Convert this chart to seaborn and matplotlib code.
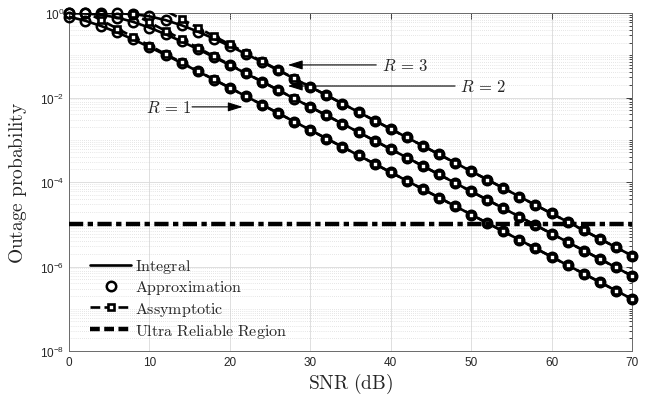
import numpy as np
import pandas as pd
import matplotlib
matplotlib.use("Agg")
import matplotlib.pyplot as plt
from matplotlib.lines import Line2D
from matplotlib.ticker import FixedLocator, LogLocator, NullFormatter
import seaborn as sns

# SNR grid (dB)
snr_db = np.arange(0, 72, 2)

# Outage probability, exact integral (approximation coincides with it)
pout_r1 = [0.817, 0.658, 0.492, 0.347, 0.236, 0.156, 0.102, 0.0654, 0.0418, 0.0266,
           0.0169, 0.0107, 6.75e-3, 4.26e-3, 2.69e-3, 1.70e-3, 1.07e-3, 6.77e-4, 4.27e-4, 2.69e-4,
           1.70e-4, 1.07e-4, 6.77e-5, 4.27e-5, 2.69e-5, 1.70e-5, 1.07e-5, 6.77e-6, 4.27e-6, 2.69e-6,
           1.70e-6, 1.07e-6, 6.77e-7, 4.27e-7, 2.69e-7, 1.70e-7]
pout_r2 = [0.9975, 0.977, 0.908, 0.778, 0.614, 0.451, 0.315, 0.2125, 0.140, 0.0907,
           0.0582, 0.0372, 0.0236, 0.0150, 9.46e-3, 5.98e-3, 3.78e-3, 2.39e-3, 1.51e-3, 9.51e-4,
           6.00e-4, 3.79e-4, 2.39e-4, 1.51e-4, 9.51e-5, 6.00e-5, 3.79e-5, 2.39e-5, 1.51e-5, 9.51e-6,
           6.00e-6, 3.79e-6, 2.39e-6, 1.51e-6, 9.51e-7, 6.00e-7]
pout_r3 = [1.0, 1.0, 0.9992, 0.989, 0.942, 0.835, 0.679, 0.512, 0.364, 0.248,
           0.165, 0.1074, 0.0692, 0.0442, 0.0281, 0.0178, 0.0113, 7.14e-3, 4.51e-3, 2.85e-3,
           1.80e-3, 1.14e-3, 7.17e-4, 4.52e-4, 2.85e-4, 1.80e-4, 1.14e-4, 7.17e-5, 4.52e-5, 2.85e-5,
           1.80e-5, 1.14e-5, 7.17e-6, 4.52e-6, 2.85e-6, 1.80e-6]

# High-SNR asymptotes
asym_r1 = [1.70, 1.07, 0.677, 0.427, 0.269, 0.170, 0.107, 0.0677, 0.0427, 0.0269,
           0.0170, 0.0107, 6.77e-3, 4.27e-3, 2.69e-3, 1.70e-3, 1.07e-3, 6.77e-4, 4.27e-4, 2.69e-4,
           1.70e-4, 1.07e-4, 6.77e-5, 4.27e-5, 2.69e-5, 1.70e-5, 1.07e-5, 6.77e-6, 4.27e-6, 2.69e-6,
           1.70e-6, 1.07e-6, 6.77e-7, 4.27e-7, 2.69e-7, 1.70e-7]
asym_r2 = [6.00, 3.79, 2.39, 1.51, 0.951, 0.600, 0.379, 0.239, 0.151, 0.0951,
           0.0600, 0.0379, 0.0239, 0.0151, 9.51e-3, 6.00e-3, 3.79e-3, 2.39e-3, 1.51e-3, 9.51e-4,
           6.00e-4, 3.79e-4, 2.39e-4, 1.51e-4, 9.51e-5, 6.00e-5, 3.79e-5, 2.39e-5, 1.51e-5, 9.51e-6,
           6.00e-6, 3.79e-6, 2.39e-6, 1.51e-6, 9.51e-7, 6.00e-7]
asym_r3 = [18.0, 11.4, 7.17, 4.52, 2.85, 1.80, 1.14, 0.717, 0.452, 0.285,
           0.180, 0.114, 0.0717, 0.0452, 0.0285, 0.0180, 0.0114, 7.17e-3, 4.52e-3, 2.85e-3,
           1.80e-3, 1.14e-3, 7.17e-4, 4.52e-4, 2.85e-4, 1.80e-4, 1.14e-4, 7.17e-5, 4.52e-5, 2.85e-5,
           1.80e-5, 1.14e-5, 7.17e-6, 4.52e-6, 2.85e-6, 1.80e-6]

ultra_reliable = 1e-5
rates = [1, 2, 3]

df = pd.concat([
    pd.DataFrame({"snr": snr_db, "exact": p, "approx": p, "asym": a, "R": r})
    for r, p, a in zip(rates, [pout_r1, pout_r2, pout_r3], [asym_r1, asym_r2, asym_r3])
], ignore_index=True)

sns.set_style("white")
plt.rcParams.update({
    "font.family": ["Liberation Sans", "DejaVu Sans"],
    "mathtext.fontset": "custom",
    "mathtext.rm": "Liberation Sans",
    "mathtext.it": "Liberation Sans:italic",
    "mathtext.bf": "Liberation Sans:bold",
})

fig = plt.figure(figsize=(6.51, 4.02), dpi=100)
ax = fig.add_axes([69 / 651, 1 - 352 / 402, (632 - 69) / 651, (352 - 14) / 402])

lw = 1.9
# exact integral curves
sns.lineplot(data=df, x="snr", y="exact", units="R", estimator=None, color="black",
             lw=lw, ax=ax, legend=False, zorder=3)
# approximation markers
sns.lineplot(data=df, x="snr", y="approx", units="R", estimator=None, color="black",
             linestyle="none", marker="o", ms=6.8, mfc="none", mec="black", mew=1.8,
             ax=ax, legend=False, zorder=4, clip_on=False)
# asymptotes
sns.lineplot(data=df, x="snr", y="asym", units="R", estimator=None, color="black",
             lw=lw, linestyle="--", ax=ax, legend=False, zorder=5)
inside = df[df["asym"] <= 1.0]
sns.lineplot(data=inside, x="snr", y="asym", units="R", estimator=None, color="black",
             linestyle="none", marker="s", ms=4.6, mfc="white", mec="black", mew=1.9,
             ax=ax, legend=False, zorder=6, clip_on=False)
# ultra reliable threshold
ur_style = dict(color="black", lw=3.2, dashes=(3.2, 1.0, 1.2, 1.0))
ax.axhline(ultra_reliable, zorder=7, **ur_style)

ax.set_yscale("log")
ax.set_xlim(0, 70)
ax.set_ylim(1e-8, 1)
ax.set_xticks(np.arange(0, 71, 10))
ax.yaxis.set_major_locator(FixedLocator([1e-8, 1e-6, 1e-4, 1e-2, 1e0]))
ax.yaxis.set_minor_locator(LogLocator(base=10, subs=np.arange(1, 10), numticks=100))
ax.yaxis.set_minor_formatter(NullFormatter())

axc = "#262626"
for s in ax.spines.values():
    s.set_color("#6a6a6a")
    s.set_linewidth(0.7)
    s.set_visible(True)
ax.tick_params(which="both", direction="in", top=True, right=True, colors=axc,
               labelsize=8.5, width=0.6)
ax.tick_params(which="major", length=4)
ax.tick_params(which="minor", length=2.2)
for t in ax.get_xticklabels() + ax.get_yticklabels():
    t.set_color(axc)

ax.grid(True, which="major", color="#d9d9d9", lw=0.6, ls="-")
ax.grid(True, which="minor", axis="y", color="#cfcfcf", lw=0.5, ls=(0, (1, 2)))
ax.set_axisbelow(True)

lab = dict(fontsize=14, color=axc, math_fontfamily="cm")
ax.set_xlabel(r"$\mathrm{SNR\ (dB)}$", labelpad=2, **lab)
ax.set_ylabel(r"$\mathrm{Outage\ probability}$", labelpad=8, **lab)

arrow = dict(arrowstyle="-|>,head_length=0.9,head_width=0.28", color="black", lw=0.8,
             shrinkA=0, shrinkB=0)
ax.annotate("", xy=(27.2, 0.059), xytext=(38.2, 0.059), arrowprops=arrow)
ax.text(38.9, 0.059, r"$R\,=\,3$", fontsize=12, va="center", ha="left", math_fontfamily="cm")
ax.annotate("", xy=(27.2, 0.0187), xytext=(48.0, 0.0187), arrowprops=arrow)
ax.text(48.6, 0.0187, r"$R\,=\,2$", fontsize=12, va="center", ha="left", math_fontfamily="cm")
ax.annotate("", xy=(21.6, 0.006), xytext=(15.3, 0.006), arrowprops=arrow)
ax.text(15.2, 0.006, r"$R\,=\,1$", fontsize=12, va="center", ha="right", math_fontfamily="cm")

handles = [
    Line2D([], [], color="black", lw=lw),
    Line2D([], [], color="black", ls="none", marker="o", ms=6.8, mfc="none", mew=1.8),
    Line2D([], [], color="black", lw=lw, ls="--", marker="s", ms=4.6, mfc="white", mew=1.9),
    Line2D([], [], color="black", lw=3.2, dashes=(2.2, 1.0)),
]
labels = [r"$\mathrm{Integral}$", r"$\mathrm{Approximation}$", r"$\mathrm{Assymptotic}$",
          r"$\mathrm{Ultra\ Reliable\ Region}$"]
leg = ax.legend(handles, labels, loc="lower left", bbox_to_anchor=(0.02, 0.005), frameon=False,
                fontsize=11.5, handlelength=2.6, handletextpad=0.2, labelspacing=0.2,
                borderaxespad=0.2)
for t in leg.get_texts():
    t.set_math_fontfamily("cm")

fig.savefig("out.png", dpi=100)
